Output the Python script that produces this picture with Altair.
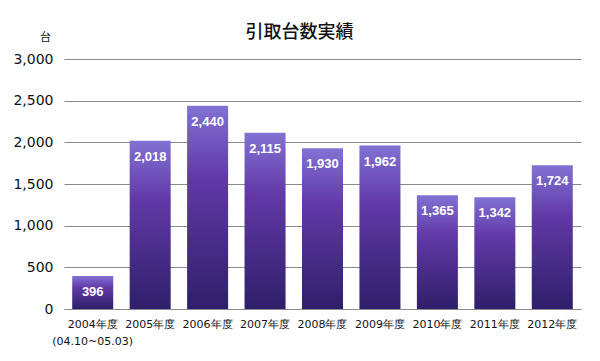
import altair as alt
import pandas as pd

years = ["2004年度", "2005年度", "2006年度", "2007年度", "2008年度",
         "2009年度", "2010年度", "2011年度", "2012年度"]
values = [396, 2018, 2440, 2115, 1930, 1962, 1365, 1342, 1724]
first_sub = "(04.10~05.03)"
y_ticks = [0, 500, 1000, 1500, 2000, 2500, 3000]

df = pd.DataFrame({"year": years, "value": values})

grad = alt.Gradient(
    gradient="linear", x1=0, y1=0, x2=0, y2=1,
    stops=[alt.GradientStop(color="#8172d3", offset=0),
           alt.GradientStop(color="#6239a7", offset=0.35),
           alt.GradientStop(color="#2e1f6a", offset=1)],
)

label_expr = f"datum.value == '{years[0]}' ? ['{years[0]}', '{first_sub}'] : datum.value"

x = alt.X("year:N", sort=years, title=None,
          scale=alt.Scale(paddingInner=0.286, paddingOuter=0.143),
          axis=alt.Axis(labelAngle=0, ticks=False, domainColor="#8a8a8a",
                        labelFont="DejaVu Sans", labelFontSize=11, labelColor="#111",
                        labelPadding=9, labelLineHeight=17, labelExpr=label_expr))
y = alt.Y("value:Q", title="台",
          scale=alt.Scale(domain=[0, 3000], nice=False),
          axis=alt.Axis(values=y_ticks, format=",.0f", ticks=False, domain=False,
                        gridColor="#8a8a8a", gridWidth=1,
                        labelFont="DejaVu Sans", labelFontSize=14, labelColor="#111",
                        labelPadding=11,
                        titleAngle=0, titleX=-19, titleY=-22, titleAlign="center",
                        titleBaseline="middle", titleFont="Noto Sans CJK JP",
                        titleFontSize=11, titleFontWeight="normal", titleColor="#111"))

bars = alt.Chart(df).mark_bar(fill=grad).encode(x=x, y=y)
labels = alt.Chart(df).mark_text(
    color="white", font="Liberation Sans", fontSize=13, fontWeight="bold",
    baseline="middle", dy=16,
).encode(x=alt.X("year:N", sort=years), y="value:Q", text=alt.Text("value:Q", format=","))

chart = (bars + labels).properties(
    width=517, height=250,
    autosize="none",
    padding={"left": 56, "top": 51, "right": 11, "bottom": 44},
    title=alt.Title("引取台数実績", anchor="middle", dx=-23, offset=-29,
                    font="Noto Sans CJK JP", fontSize=18, fontWeight=500,
                    color="#111", baseline="bottom"),
).configure_view(stroke=None)

chart.save("out.html", embed_options={"renderer": "svg", "actions": False})
